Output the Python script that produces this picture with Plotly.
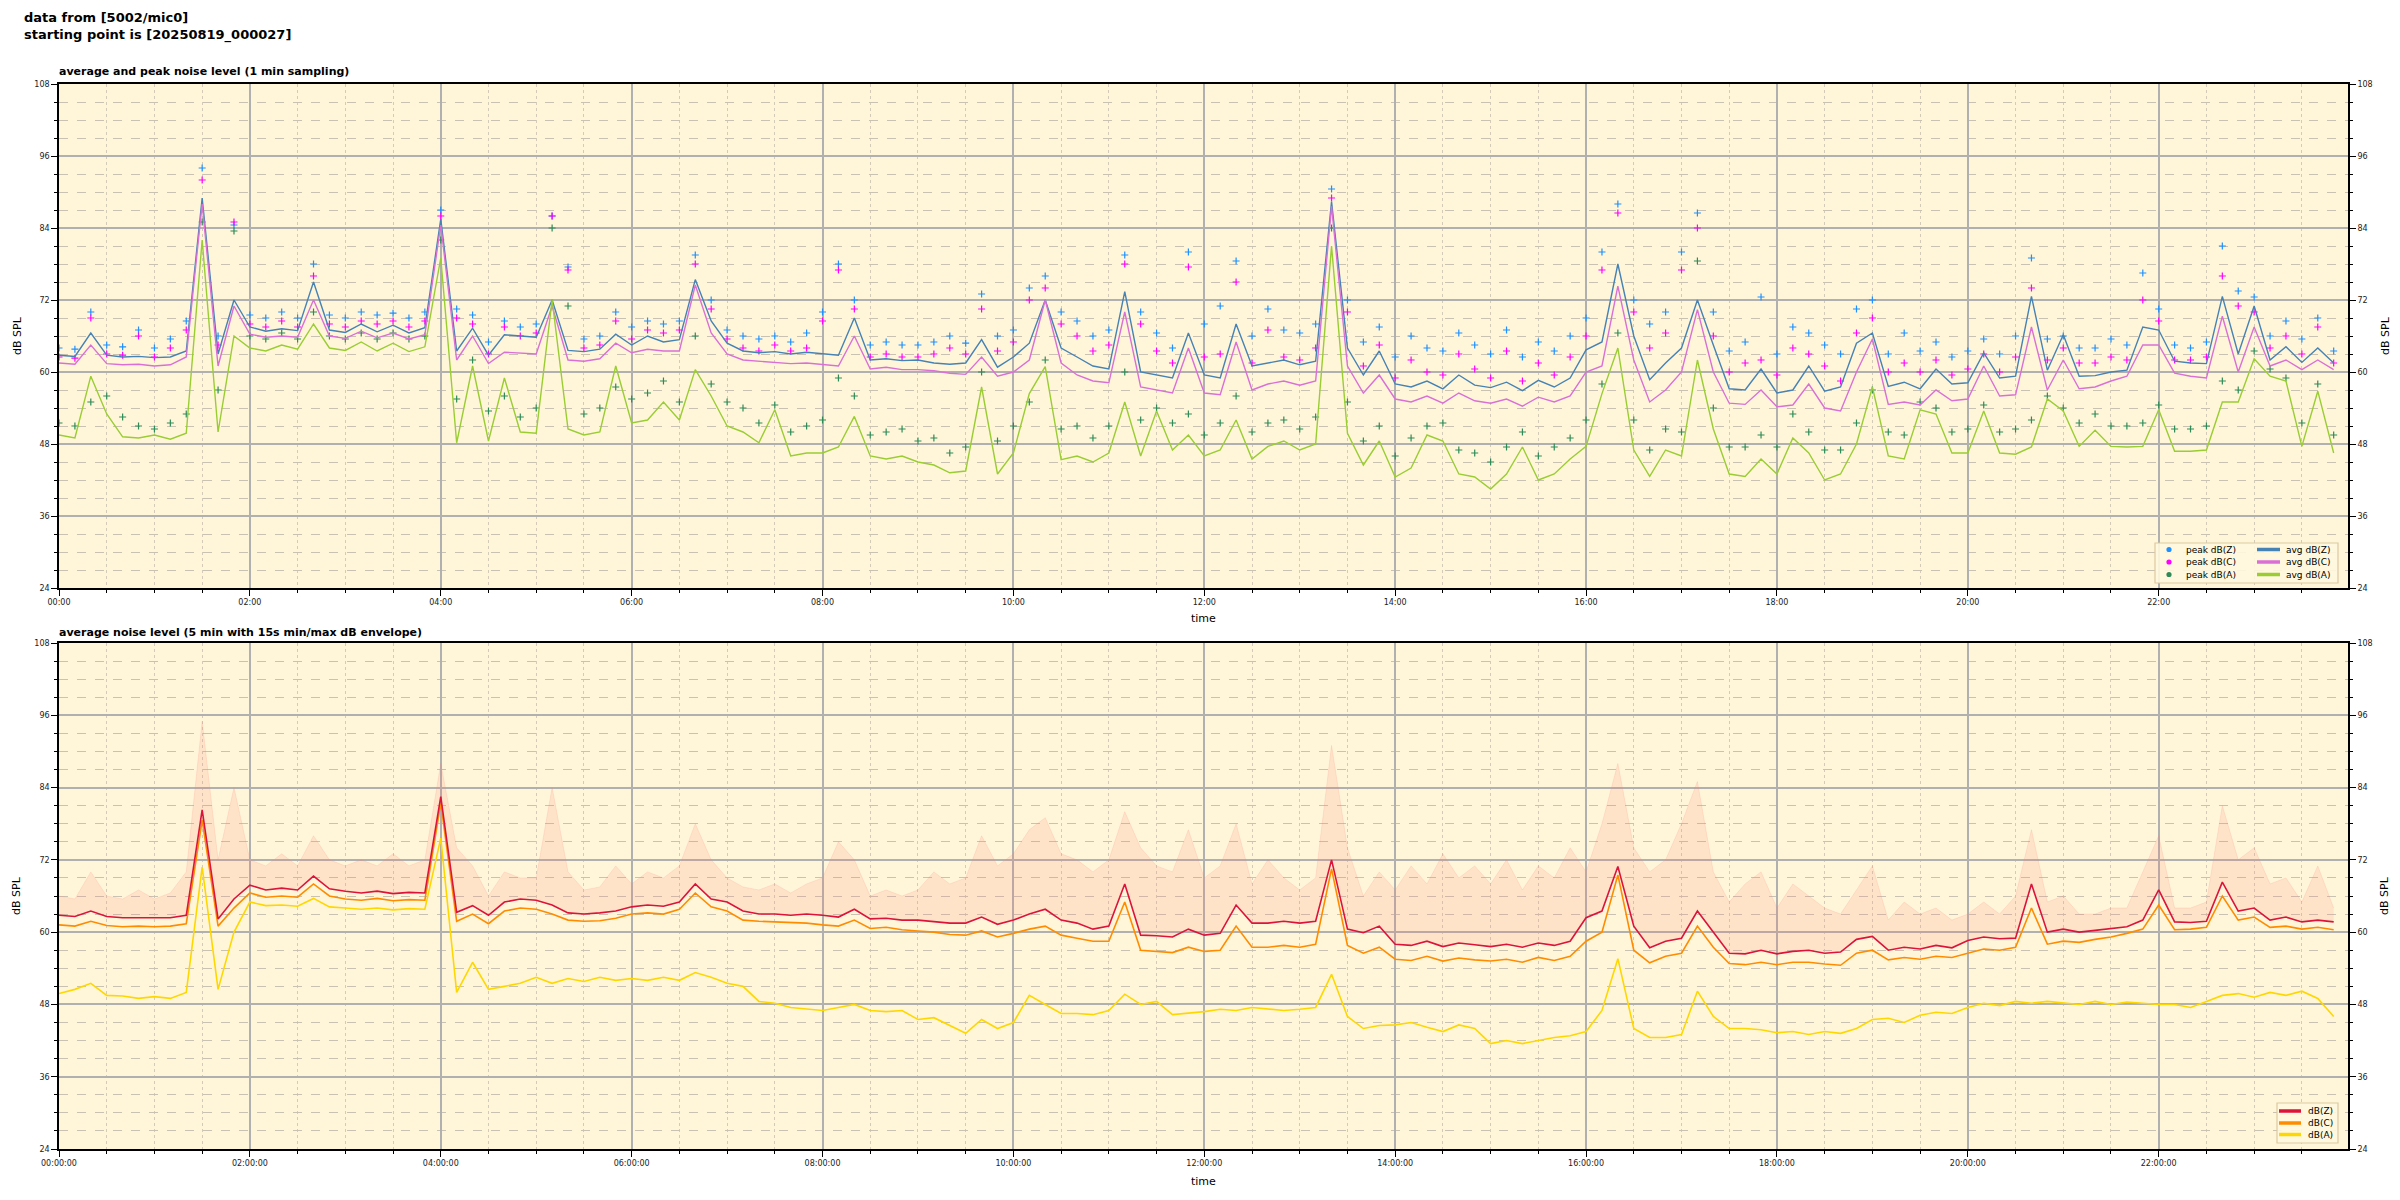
import pandas as pd
import plotly.graph_objects as go

# ---------------- data (10-minute slots, 00:00 .. 23:50) ----------------
times = pd.date_range("2025-08-19 00:00", periods=144, freq="10min")

# top chart: 1-min average and peak noise levels (read at 10-min slots)
avg_z = [62.8, 62.6, 66.5, 62.8, 62.5, 62.6,
         62.4, 62.5, 63.5, 89.0, 63.0, 72.0,
         67.5, 66.8, 67.2, 66.9, 75.0, 67.0,
         66.6, 68.0, 66.7, 67.8, 66.5, 67.4,
         85.5, 63.5, 67.3, 62.8, 66.2, 66.0,
         65.8, 72.0, 63.6, 63.4, 63.8, 66.3,
         64.5, 66.0, 65.0, 65.4, 75.4, 68.5,
         64.8, 63.5, 63.2, 63.4, 63.0, 63.3,
         63.0, 62.8, 69.0, 62.0, 62.2, 61.9,
         62.0, 61.5, 61.3, 61.5, 65.4, 60.8,
         62.5, 64.8, 72.0, 64.0, 62.5, 61.0,
         60.5, 73.4, 60.0, 59.5, 59.0, 66.5,
         59.5, 59.0, 68.0, 61.0, 61.5, 62.0,
         61.2, 61.8, 88.4, 64.0, 59.5, 63.5,
         58.0, 57.5, 58.5, 57.2, 59.5, 57.8,
         57.4, 58.3, 56.9, 58.6, 57.5, 59.0,
         63.7, 65.0, 78.0, 66.0, 58.7, 61.5,
         64.0, 72.0, 64.5, 57.2, 57.0, 60.5,
         56.5, 57.0, 61.0, 56.8, 57.5, 64.8,
         66.5, 57.6, 58.3, 57.2, 60.5, 58.0,
         58.2, 63.2, 59.0, 59.3, 72.6, 60.3,
         66.2, 59.3, 59.4, 60.0, 60.3, 67.5,
         67.0, 61.8, 61.5, 61.4, 72.6, 63.0,
         71.0, 62.0, 64.2, 61.6, 64.0, 61.5]

avg_c = [61.5, 61.3, 64.5, 61.4, 61.2, 61.3,
         61.0, 61.2, 62.5, 88.0, 61.0, 71.0,
         66.3, 65.8, 66.0, 65.8, 72.0, 66.0,
         65.6, 66.8, 65.7, 66.5, 65.5, 66.2,
         84.5, 62.0, 66.0, 61.4, 63.3, 63.1,
         63.0, 71.0, 62.0, 61.8, 62.2, 64.8,
         63.2, 63.8, 63.5, 63.5, 74.5, 66.5,
         63.0, 62.0, 61.8, 61.5, 61.4, 61.5,
         61.2, 61.0, 66.0, 60.5, 60.8, 60.4,
         60.4, 60.2, 59.8, 59.6, 62.5, 59.3,
         60.0, 62.0, 72.0, 61.5, 59.5, 58.5,
         58.2, 70.0, 57.5, 57.0, 56.5, 64.0,
         56.5, 56.2, 65.0, 57.0, 58.0, 58.5,
         57.8, 58.5, 87.6, 61.0, 56.5, 59.5,
         55.5, 55.0, 56.0, 54.8, 56.5, 55.2,
         54.8, 55.5, 54.3, 55.8, 55.0, 56.0,
         60.0, 61.0, 74.3, 62.0, 55.0, 57.0,
         60.0, 70.4, 60.0, 54.8, 54.6, 57.0,
         54.2, 54.5, 58.0, 54.0, 53.5, 60.0,
         65.5, 54.6, 55.0, 54.5, 57.0, 55.2,
         55.5, 61.0, 56.0, 56.2, 67.5, 57.0,
         62.0, 57.2, 57.5, 58.5, 59.3, 64.5,
         64.5, 59.8, 59.3, 59.0, 69.3, 60.0,
         67.5, 61.0, 62.0, 60.4, 62.0, 60.4]

avg_a = [49.5, 49.0, 59.3, 53.0, 49.2, 49.0,
         49.5, 48.8, 49.8, 82.0, 50.0, 66.0,
         64.0, 63.5, 64.5, 63.8, 68.0, 64.0,
         63.6, 65.0, 63.5, 64.8, 63.4, 64.2,
         79.0, 48.2, 61.0, 48.5, 59.0, 50.0,
         49.8, 72.0, 50.5, 49.5, 50.0, 61.0,
         51.5, 52.0, 55.0, 52.0, 60.4, 56.0,
         51.0, 50.0, 48.2, 53.7, 46.0, 46.5,
         46.5, 47.5, 52.6, 46.0, 45.5, 46.0,
         45.0, 44.5, 43.2, 43.5, 57.5, 43.0,
         46.5, 56.4, 60.9, 45.4, 46.0, 45.0,
         46.5, 55.0, 46.0, 53.5, 47.0, 49.5,
         46.0, 47.0, 52.0, 45.5, 47.6, 48.5,
         47.0, 48.0, 81.0, 49.8, 44.5, 48.5,
         42.5, 44.0, 49.5, 48.5, 43.0, 42.5,
         40.5, 43.0, 47.5, 42.0, 43.0, 45.5,
         47.6, 56.4, 64.0, 47.0, 42.6, 47.0,
         46.0, 62.0, 50.5, 43.0, 42.6, 45.5,
         43.0, 49.0, 46.5, 42.0, 43.0, 48.0,
         57.5, 46.0, 45.5, 53.7, 53.0, 46.5,
         46.5, 53.5, 46.5, 46.3, 47.5, 55.5,
         53.5, 47.6, 50.3, 47.6, 47.5, 47.6,
         53.7, 46.8, 46.8, 47.0, 55.0, 55.0,
         62.2, 59.3, 58.5, 47.6, 56.8, 46.5]

peak_z = [64.0, 63.8, 70.0, 64.5, 64.2, 67.0,
          64.0, 65.5, 68.5, 94.0, 66.0, 84.5,
          69.5, 69.0, 70.0, 69.0, 78.0, 69.5,
          69.0, 70.0, 69.5, 69.8, 69.0, 70.0,
          87.0, 70.5, 69.5, 65.0, 68.5, 67.5,
          68.0, 86.0, 77.5, 65.5, 66.0, 70.0,
          67.5, 68.5, 68.0, 68.5, 79.5, 72.0,
          67.0, 66.0, 65.5, 66.0, 65.0, 66.5,
          70.0, 78.0, 72.0, 64.5, 65.0, 64.5,
          64.5, 65.0, 66.0, 64.8, 73.0, 66.0,
          67.0, 74.0, 76.0, 70.0, 68.5, 66.0,
          67.0, 79.5, 70.0, 66.5, 64.0, 80.0,
          68.0, 71.0, 78.5, 66.0, 70.5, 67.0,
          66.5, 68.0, 90.5, 72.0, 65.0, 67.5,
          62.5, 66.0, 64.0, 63.5, 66.5, 64.5,
          63.0, 67.0, 62.5, 65.0, 63.5, 66.0,
          69.0, 80.0, 88.0, 72.0, 68.0, 70.0,
          80.0, 86.5, 70.0, 63.5, 65.0, 72.5,
          63.0, 67.5, 66.5, 64.5, 63.0, 70.5,
          72.0, 63.0, 66.5, 63.5, 65.0, 62.5,
          63.5, 65.5, 63.0, 66.0, 79.0, 65.5,
          66.0, 64.0, 64.0, 65.5, 64.5, 76.5,
          70.5, 64.5, 64.0, 65.0, 81.0, 73.5,
          72.5, 66.0, 68.5, 65.5, 69.0, 63.5]

peak_c = [62.5, 62.3, 69.0, 63.0, 62.8, 66.0,
          62.5, 64.0, 67.0, 92.0, 64.5, 85.0,
          68.0, 67.5, 68.5, 67.5, 76.0, 68.0,
          67.5, 68.5, 68.0, 68.5, 67.5, 68.5,
          86.0, 69.0, 68.0, 63.0, 67.5, 66.0,
          66.5, 86.0, 77.0, 64.0, 64.5, 68.5,
          65.5, 67.0, 66.5, 67.0, 78.0, 70.5,
          65.5, 64.0, 63.5, 64.5, 63.5, 64.0,
          68.5, 77.0, 70.5, 62.5, 63.0, 62.5,
          62.5, 63.0, 64.0, 63.0, 70.5, 63.5,
          65.0, 72.0, 74.0, 68.0, 66.0, 63.5,
          64.5, 78.0, 68.0, 63.5, 61.5, 77.5,
          62.5, 63.0, 75.0, 61.5, 67.0, 62.5,
          62.0, 64.0, 89.0, 70.0, 61.0, 64.5,
          59.0, 62.0, 60.0, 59.5, 63.0, 60.5,
          59.0, 63.5, 58.5, 61.5, 59.5, 62.5,
          66.0, 77.0, 86.5, 70.0, 64.0, 66.5,
          77.0, 84.0, 66.0, 60.0, 61.5, 62.0,
          59.5, 64.0, 63.0, 61.0, 58.5, 66.5,
          69.0, 60.0, 61.5, 60.0, 62.0, 59.5,
          60.5, 63.0, 60.0, 62.5, 74.0, 62.0,
          64.0, 61.5, 61.5, 62.5, 62.0, 72.0,
          68.5, 62.0, 62.0, 62.5, 76.0, 71.0,
          70.0, 64.0, 66.0, 63.0, 67.5, 61.5]

peak_a = [51.5, 51.0, 55.0, 56.0, 52.5, 51.0,
          50.5, 51.5, 53.0, 85.0, 57.0, 83.5,
          66.0, 65.5, 66.5, 65.5, 70.0, 66.0,
          65.5, 66.5, 65.5, 66.5, 65.5, 66.0,
          82.0, 55.5, 62.0, 53.5, 56.0, 52.5,
          54.0, 84.0, 71.0, 53.0, 54.0, 57.5,
          55.5, 56.5, 58.5, 55.0, 66.0, 58.0,
          55.0, 54.0, 51.5, 54.5, 50.0, 51.0,
          52.0, 59.0, 56.0, 49.5, 50.0, 50.5,
          48.5, 49.0, 46.5, 47.5, 60.0, 48.5,
          51.0, 55.0, 62.0, 50.5, 51.0, 49.0,
          51.0, 60.0, 52.0, 54.0, 51.5, 53.0,
          49.5, 51.5, 56.0, 50.0, 51.5, 52.0,
          50.5, 52.5, 84.0, 55.0, 48.5, 51.0,
          46.0, 49.0, 51.0, 51.5, 47.0, 46.5,
          45.0, 47.5, 50.0, 46.0, 47.5, 49.0,
          52.0, 58.0, 66.5, 52.0, 47.0, 50.5,
          50.0, 78.5, 54.0, 47.5, 47.5, 49.5,
          47.5, 53.0, 50.0, 47.0, 47.0, 51.5,
          57.0, 50.0, 49.5, 55.0, 54.0, 50.0,
          50.5, 54.5, 50.0, 50.5, 52.0, 56.0,
          54.0, 51.5, 53.0, 51.0, 51.0, 51.5,
          54.5, 50.5, 50.5, 51.0, 58.5, 57.0,
          63.5, 60.5, 59.0, 51.5, 58.0, 49.5]

# bottom chart: 5-min averages (read at 10-min slots) and 15 s max envelope
bot_z = [62.8, 62.6, 63.5, 62.6, 62.4, 62.4,
         62.3, 62.4, 62.8, 80.3, 62.2, 65.5,
         67.8, 67.0, 67.3, 67.0, 69.3, 67.2,
         66.8, 66.5, 66.8, 66.4, 66.6, 66.5,
         82.5, 63.3, 64.4, 62.8, 65.0, 65.5,
         65.3, 64.5, 63.2, 63.0, 63.2, 63.5,
         64.2, 64.5, 64.3, 65.0, 68.0, 65.5,
         65.0, 63.5, 63.0, 63.0, 62.8, 63.0,
         62.8, 62.5, 63.8, 62.2, 62.3, 62.0,
         62.0, 61.8, 61.5, 61.5, 62.5, 61.3,
         62.0, 63.0, 63.8, 62.0, 61.5, 60.5,
         61.0, 68.0, 59.5, 59.4, 59.2, 60.5,
         59.5, 59.8, 64.5, 61.5, 61.5, 61.8,
         61.5, 61.8, 72.0, 60.5, 59.9, 61.0,
         58.0, 57.8, 58.5, 57.6, 58.2, 57.9,
         57.6, 58.0, 57.5, 58.2, 57.8, 58.5,
         62.4, 63.5, 70.9, 61.0, 57.4, 58.5,
         59.0, 63.5, 60.0, 56.5, 56.4, 57.0,
         56.4, 56.8, 57.0, 56.5, 56.7, 58.8,
         59.3, 57.0, 57.5, 57.2, 57.8, 57.4,
         58.6, 59.2, 58.9, 59.0, 68.0, 60.0,
         60.5, 60.0, 60.3, 60.6, 60.9, 62.0,
         67.0, 61.7, 61.6, 61.8, 68.3, 63.5,
         64.0, 62.0, 62.5, 61.7, 62.0, 61.7]

bot_c = [61.2, 61.0, 61.8, 61.1, 60.9, 61.0,
         60.9, 61.0, 61.4, 78.6, 61.0, 64.0,
         66.5, 65.8, 66.0, 65.8, 68.0, 66.0,
         65.5, 65.3, 65.6, 65.2, 65.4, 65.3,
         81.4, 61.8, 63.0, 61.4, 63.5, 64.0,
         63.8, 63.0, 62.0, 61.8, 61.9, 62.3,
         63.0, 63.2, 63.0, 63.8, 66.5, 64.2,
         63.5, 62.0, 61.8, 61.7, 61.5, 61.5,
         61.2, 61.0, 62.0, 60.6, 60.8, 60.4,
         60.2, 60.0, 59.6, 59.5, 60.2, 59.2,
         59.8, 60.5, 61.0, 59.5, 59.0, 58.5,
         58.5, 65.0, 57.0, 56.8, 56.6, 57.5,
         56.8, 57.0, 61.0, 57.5, 57.5, 57.8,
         57.5, 58.0, 70.5, 57.8, 56.5, 57.5,
         55.5, 55.3, 56.0, 55.2, 55.7, 55.4,
         55.2, 55.5, 55.0, 55.8, 55.3, 56.0,
         58.5, 60.0, 69.5, 57.0, 54.9, 56.0,
         56.5, 61.0, 57.5, 54.8, 54.6, 55.0,
         54.6, 55.0, 55.0, 54.7, 54.5, 56.5,
         57.0, 55.4, 55.8, 55.5, 56.0, 55.8,
         56.5, 57.2, 57.0, 57.5, 64.0, 58.0,
         58.5, 58.3, 58.8, 59.2, 59.8, 60.5,
         64.5, 60.4, 60.5, 60.8, 66.0, 62.0,
         62.5, 60.8, 61.0, 60.5, 60.8, 60.4]

bot_a = [49.8, 50.5, 51.5, 49.5, 49.4, 49.0,
         49.3, 49.0, 50.0, 70.8, 50.5, 60.0,
         65.0, 64.4, 64.5, 64.3, 65.6, 64.2,
         64.0, 63.8, 64.0, 63.7, 63.9, 63.8,
         75.6, 50.0, 55.0, 50.5, 51.0, 51.5,
         52.5, 51.5, 52.3, 51.8, 52.5, 52.0,
         52.3, 52.0, 52.5, 52.0, 53.3, 52.5,
         51.5, 51.0, 48.5, 48.2, 47.5, 47.2,
         47.0, 47.5, 48.0, 47.0, 46.8, 47.0,
         45.5, 45.8, 44.5, 43.2, 45.5, 44.0,
         45.0, 49.5, 48.0, 46.5, 46.5, 46.3,
         47.0, 49.7, 48.0, 48.5, 46.3, 46.5,
         46.8, 47.2, 47.0, 47.5, 47.2, 47.0,
         47.2, 47.5, 53.0, 46.0, 44.0, 44.5,
         44.6, 45.0, 44.2, 43.5, 44.6, 44.0,
         41.5, 42.0, 41.5, 42.0, 42.5, 42.8,
         43.5, 47.0, 55.6, 44.0, 42.5, 42.5,
         43.0, 50.2, 46.0, 44.0, 44.0, 43.8,
         43.3, 43.5, 43.0, 43.5, 43.2, 44.0,
         45.5, 45.7, 45.0, 46.2, 46.7, 46.5,
         47.5, 48.2, 47.8, 48.5, 48.2, 48.5,
         48.2, 48.0, 48.5, 48.0, 48.4, 48.2,
         48.0, 48.0, 47.5, 48.5, 49.5, 49.8,
         49.2, 50.0, 49.5, 50.2, 49.0, 46.0]

env_hi = [66, 65.5, 70, 66, 65.5, 67,
          65.5, 66.5, 70, 95, 72, 84,
          72, 71, 73, 71, 76, 72,
          71, 72, 71, 73, 71, 72,
          88, 74, 71, 66, 70, 69,
          69, 84, 70, 67, 67.5, 71,
          68, 70, 69, 71, 78, 72,
          69, 67.5, 67, 68, 66.5, 68,
          69, 75, 72, 66, 67, 66,
          67, 70, 68, 69, 76, 71,
          73, 77, 79, 73, 72, 70,
          72, 80, 74, 71, 70, 77,
          69, 71, 78, 68, 72, 69,
          67, 69, 91, 74, 66, 70,
          67, 71, 68, 73, 69, 71,
          68, 72, 67, 71, 69, 74,
          70, 78, 88, 74, 70, 72,
          78, 85, 70, 65, 68, 70,
          64, 68, 66, 64, 63, 67,
          71, 62, 65, 63, 64, 62,
          63, 65, 63, 66, 77, 65,
          66, 63, 63, 64, 64, 70,
          76, 64, 64, 65, 81, 72,
          74, 68, 69, 65, 71, 64]

for arr in (avg_z, avg_c, avg_a, peak_z, peak_c, peak_a, bot_z, bot_c, bot_a, env_hi):
    assert len(arr) == 144, len(arr)

y_ticks = [24, 36, 48, 60, 72, 84, 96, 108]

# ---------------- figure ----------------
W, H = 2400, 1200
ML, MR, MT, MB = 59, 52, 84, 51
PW, PH = W - ML - MR, H - MT - MB


def px(xp):
    return (xp - ML) / PW


def py(yp):
    return (H - MB - yp) / PH


BG = "#FFF6DA"
FONT = "DejaVu Sans"

fig = go.Figure()

# --- top: peaks (scatter crosses)
peak_specs = [(peak_z, "#1E90FF", "peak dB(Z)"),
              (peak_c, "#FF00FF", "peak dB(C)"),
              (peak_a, "#2E8B57", "peak dB(A)")]
for vals, col, name in peak_specs:
    fig.add_trace(go.Scatter(x=times, y=vals, mode="markers", xaxis="x", yaxis="y",
                             marker=dict(symbol="cross-thin", size=5, color=col,
                                         line=dict(width=1.2, color=col)),
                             name=name, showlegend=False, hoverinfo="skip"))

avg_specs = [(avg_z, "#4682B4", "avg dB(Z)"),
             (avg_c, "#DA70D6", "avg dB(C)"),
             (avg_a, "#9ACD32", "avg dB(A)")]
for vals, col, name in avg_specs:
    fig.add_trace(go.Scatter(x=times, y=vals, mode="lines", xaxis="x", yaxis="y",
                             line=dict(color=col, width=1.4),
                             name=name, showlegend=False, hoverinfo="skip"))

# --- bottom: envelope + averages
fig.add_trace(go.Scatter(x=times, y=bot_z, mode="lines", xaxis="x2", yaxis="y2",
                         line=dict(width=0, color="rgba(250,128,114,0)"),
                         showlegend=False, hoverinfo="skip"))
fig.add_trace(go.Scatter(x=times, y=env_hi, mode="lines", xaxis="x2", yaxis="y2",
                         fill="tonexty", fillcolor="rgba(250,128,114,0.16)",
                         line=dict(width=0.6, color="rgba(250,128,114,0.28)"),
                         showlegend=False, hoverinfo="skip"))

bot_specs = [(bot_z, "#DC143C", "dB(Z)"),
             (bot_c, "#FF8C00", "dB(C)"),
             (bot_a, "#FFD700", "dB(A)")]
for vals, col, name in reversed(bot_specs):
    fig.add_trace(go.Scatter(x=times, y=vals, mode="lines", xaxis="x2", yaxis="y2",
                             line=dict(color=col, width=1.6),
                             name=name, showlegend=False, hoverinfo="skip"))

# dummy traces for right-hand axes
fig.add_trace(go.Scatter(x=[times[0]], y=[None], xaxis="x", yaxis="y3", showlegend=False,
                         hoverinfo="skip"))
fig.add_trace(go.Scatter(x=[times[0]], y=[None], xaxis="x2", yaxis="y4", showlegend=False,
                         hoverinfo="skip"))

top_dom = [py(588), 1.0]
bot_dom = [0.0, py(643)]

xrange_ = ["2025-08-19 00:00:00", "2025-08-19 23:59:00"]


def xaxis_cfg(anchor, fmt):
    return dict(type="date", range=xrange_, anchor=anchor, domain=[0, 1],
                tick0="2025-08-19 00:00:00", dtick=7200000, tickformat=fmt,
                ticks="outside", ticklen=6, tickwidth=1, tickcolor="black",
                tickfont=dict(size=8, color="#222", family=FONT),
                showgrid=True, gridcolor="#B0B0B0", gridwidth=1.5,
                showline=True, mirror=True, linecolor="black", linewidth=1.6,
                zeroline=False, automargin=False,
                minor=dict(dtick=1800000, tick0="2025-08-19 00:00:00", ticks="outside",
                           ticklen=3, tickwidth=1, tickcolor="black", showgrid=True,
                           gridcolor="#D3CBB8", griddash="dot", gridwidth=1))


def yaxis_cfg(anchor, dom, side="left", overlay=None, grid=True):
    d = dict(range=[24, 108], tickmode="array", tickvals=y_ticks,
             ticktext=[str(v) for v in y_ticks], anchor=anchor, side=side,
             ticks="outside", ticklen=6, tickwidth=1, tickcolor="black",
             tickfont=dict(size=8, color="#222", family=FONT),
             showgrid=grid, gridcolor="#B0B0B0", gridwidth=1.5,
             showline=True, mirror=False if overlay else True, linecolor="black",
             linewidth=1.6, zeroline=False, automargin=False,
             minor=dict(dtick=3, tick0=24, ticks="outside", ticklen=3, tickwidth=1,
                        tickcolor="black", showgrid=grid, gridcolor="#C9C2B2",
                        griddash="dash", gridwidth=1))
    if overlay:
        d["overlaying"] = overlay
    else:
        d["domain"] = dom
    return d


ann = []
shapes = []


def text(x, y, s, size=10, bold=False, xa="center", ya="middle", angle=0):
    ann.append(dict(x=x, y=y, xref="paper", yref="paper", text=f"<b>{s}</b>" if bold else s,
                    showarrow=False, xanchor=xa, yanchor=ya, textangle=angle,
                    font=dict(size=size, color="black", family=FONT), align="left",
                    borderpad=0))


text(px(23), py(9), "data from [5002/mic0]<br>starting point is [20250819_000027]",
     size=13, bold=True, xa="left", ya="top")
text(px(58), py(71), "average and peak noise level (1 min sampling)", size=11, bold=True,
     xa="left")
text(px(58), py(632), "average noise level (5 min with 15s min/max dB envelope)", size=11,
     bold=True, xa="left")
for yc in (336, 896):
    text(px(17), py(yc), "dB SPL", size=11, angle=-90)
    text(px(2385), py(yc), "dB SPL", size=11, angle=-90)
text(px(1203), py(619), "time", size=11)
text(px(1203), py(1181), "time", size=11)

# ---- legends (drawn as layout items, not data)
LEG_BG = "rgba(255,248,222,0.9)"
LEG_EDGE = "#DCC9A0"


def leg_box(x0, x1, y0, y1):
    shapes.append(dict(type="rect", xref="paper", yref="paper", x0=px(x0), x1=px(x1),
                       y0=py(y1), y1=py(y0), fillcolor=LEG_BG,
                       line=dict(color=LEG_EDGE, width=1.2), layer="above"))


def leg_line(x0, x1, y, col):
    shapes.append(dict(type="line", xref="paper", yref="paper", x0=px(x0), x1=px(x1),
                       y0=py(y), y1=py(y), line=dict(color=col, width=3.5), layer="above"))


def leg_dot(x, y, col, r=2.6):
    shapes.append(dict(type="circle", xref="paper", yref="paper", x0=px(x - r),
                       x1=px(x + r), y0=py(y + r), y1=py(y - r), fillcolor=col,
                       line=dict(color=col, width=0), layer="above"))


leg_box(2155, 2338, 543, 583)
rows_top = [549.5, 562, 574.5]
for (vals, col, name), yy in zip(peak_specs, rows_top):
    leg_dot(2169, yy, col)
    text(px(2185), py(yy), name, size=9, xa="left")
for (vals, col, name), yy in zip(avg_specs, rows_top):
    leg_line(2257, 2280, yy, col)
    text(px(2285), py(yy), name, size=9, xa="left")

leg_box(2277, 2338, 1103, 1143)
rows_bot = [1111, 1123, 1134.5]
for (vals, col, name), yy in zip(bot_specs, rows_bot):
    leg_line(2279, 2301, yy, col)
    text(px(2307), py(yy), name, size=9, xa="left")

fig.update_layout(
    width=W, height=H, template="none",
    paper_bgcolor="white", plot_bgcolor=BG,
    margin=dict(l=ML, r=MR, t=MT, b=MB),
    font=dict(family=FONT, size=10, color="black"),
    xaxis=xaxis_cfg("y", "%H:%M"),
    yaxis=yaxis_cfg("x", top_dom),
    yaxis3=yaxis_cfg("x", top_dom, side="right", overlay="y", grid=False),
    xaxis2=xaxis_cfg("y2", "%H:%M:%S"),
    yaxis2=yaxis_cfg("x2", bot_dom),
    yaxis4=yaxis_cfg("x2", bot_dom, side="right", overlay="y2", grid=False),
    annotations=ann,
    shapes=shapes,
    showlegend=False,
)

fig.write_html("out.html", config={"displayModeBar": False},
               post_script="document.body.style.margin='0';document.body.style.overflow='hidden';")
